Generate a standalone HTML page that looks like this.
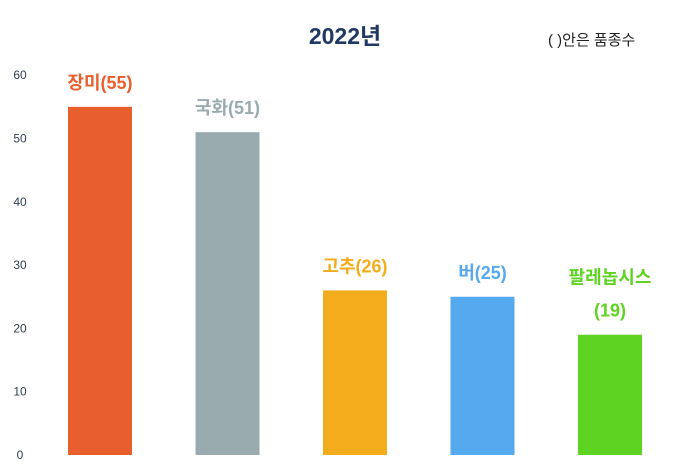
<!DOCTYPE html>
<html><head><meta charset="utf-8"><style>
body{margin:0;background:#fff;}
svg text{font-family:"Liberation Sans","Noto Sans CJK KR",sans-serif;}
</style></head><body>
<svg width="680" height="463">
<text x="345" y="44" text-anchor="middle" font-size="23" font-weight="bold" fill="#1F3864">2022년</text>
<text x="548" y="45" font-size="15" fill="#222">( )안은 품종수</text>
<g id="axis"></g><g id="bars"></g>
</svg>
<script>
const categories=["장미","국화","고추","버","팔레놉시스"];
const values=[55,51,26,25,19];
const colors=["#E95E2D","#9AABB0","#F3AD1C","#55A9EE","#5FD322"];
const ticks=[0,10,20,30,40,50,60];
const y=v=>455-v*6.33;
const x=i=>68+i*127.5;
const ns="http://www.w3.org/2000/svg";
const ax=document.getElementById('axis'),bg=document.getElementById('bars');
ticks.forEach(t=>{const e=document.createElementNS(ns,'text');


e.setAttribute('x',20);e.setAttribute('y',y(t)+4);e.setAttribute('text-anchor','middle');e.setAttribute('font-size','12');e.setAttribute('fill','#2F3F55');e.textContent=t;ax.appendChild(e);});
values.forEach((v,i)=>{const r=document.createElementNS(ns,'rect');


r.setAttribute('x',x(i));r.setAttribute('y',y(v));r.setAttribute('width',64);r.setAttribute('height',455-y(v));r.setAttribute('fill',colors[i]);bg.appendChild(r);
const lines=categories[i].length>3?[categories[i],'('+v+')']:[categories[i]+'('+v+')'];
lines.forEach((s,k)=>{const t=document.createElementNS(ns,'text');


const base=y(v)-18-(lines.length-1-k)*33;
t.setAttribute('x',x(i)+32);t.setAttribute('y',base);t.setAttribute('text-anchor','middle');t.setAttribute('font-size','18');t.setAttribute('font-weight','bold');t.setAttribute('fill',colors[i]);t.textContent=s;bg.appendChild(t);});
});
</script>
</body></html>
